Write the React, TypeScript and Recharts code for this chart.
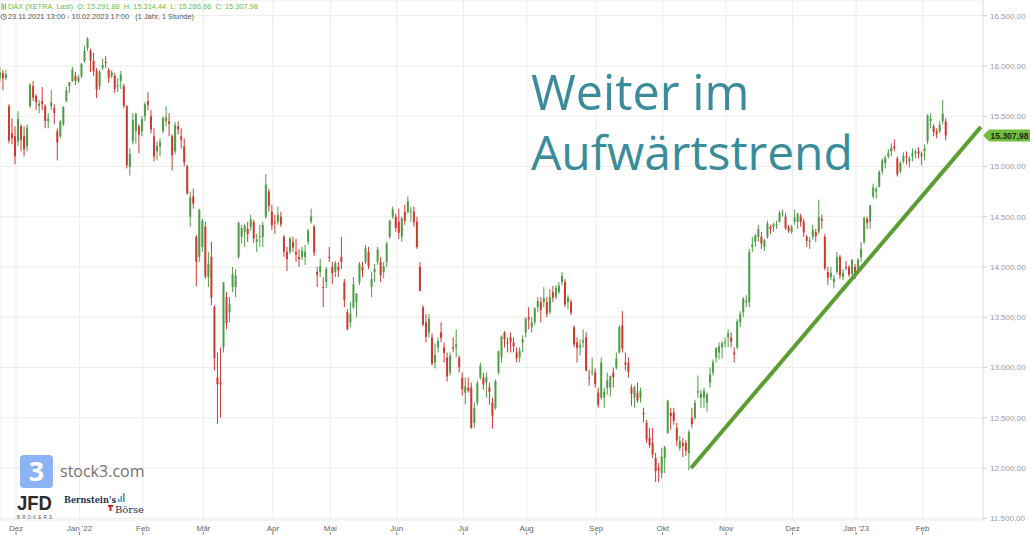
import React from 'react';
import { ComposedChart, Bar, XAxis, YAxis, CartesianGrid, ReferenceLine } from 'recharts';

type C = [number, number, number, number]; // open, high, low, close (one candle per trading day)

const nov21: C[] = [
  [15880, 15990, 15840, 15937], [15930, 15960, 15760, 15878], [15880, 15960, 15860, 15917],
  [15600, 15620, 15230, 15257], [15330, 15480, 15220, 15281], [15300, 15400, 15020, 15100],
];
const dec21: C[] = [
  [15250, 15550, 15200, 15473], [15400, 15420, 15150, 15263], [15300, 15400, 15100, 15170],
  [15200, 15420, 15150, 15387], [15600, 15830, 15580, 15814], [15800, 15850, 15650, 15687],
  [15700, 15720, 15560, 15639], [15600, 15660, 15530, 15623], [15650, 15790, 15560, 15622],
  [15600, 15620, 15380, 15453], [15450, 15530, 15380, 15476], [15600, 15760, 15560, 15636],
  [15580, 15620, 15420, 15532], [15350, 15380, 15060, 15239], [15300, 15460, 15280, 15447],
  [15420, 15600, 15400, 15593], [15650, 15790, 15640, 15756], [15800, 15840, 15730, 15837],
  [15850, 15990, 15840, 15964], [15900, 15940, 15810, 15853], [15850, 15910, 15830, 15885],
];
const jan22: C[] = [
  [15900, 16030, 15880, 16021], [16050, 16200, 16030, 16152], [16180, 16285, 16150, 16271],
  [16150, 16170, 15940, 16053], [16050, 16130, 15900, 15948], [15950, 15980, 15680, 15768],
  [15800, 15960, 15760, 15942], [15980, 16070, 15960, 16010], [16040, 16100, 15980, 16031],
  [15960, 15980, 15830, 15883], [15900, 15960, 15880, 15933], [15900, 15930, 15730, 15773],
  [15800, 15880, 15740, 15810], [15850, 15950, 15770, 15912], [15800, 15820, 15580, 15603],
  [15600, 15610, 14980, 15011], [15000, 15180, 14910, 15123], [15250, 15530, 15220, 15460],
  [15350, 15530, 15230, 15524], [15400, 15420, 15130, 15318], [15350, 15500, 15300, 15471],
];
const feb22: C[] = [
  [15500, 15640, 15450, 15619], [15650, 15740, 15560, 15613], [15500, 15560, 15330, 15368],
  [15300, 15380, 15050, 15100], [15150, 15250, 15060, 15206], [15200, 15280, 15100, 15242],
  [15350, 15500, 15330, 15482], [15450, 15600, 15400, 15490], [15450, 15530, 15300, 15425],
  [15300, 15320, 14960, 15113], [15150, 15440, 15120, 15412], [15400, 15450, 15320, 15370],
  [15300, 15380, 15180, 15267], [15200, 15280, 15000, 15042], [15000, 15020, 14720, 14731],
  [14500, 14750, 14400, 14693], [14700, 14780, 14580, 14631], [14300, 14320, 13810, 14052],
  [14100, 14580, 14050, 14567], [14200, 14480, 14150, 14461],
];
const mar22: C[] = [
  [14400, 14450, 13880, 13905], [13900, 14150, 13800, 14030], [14100, 14250, 13620, 13698],
  [13600, 13620, 12970, 13094], [12900, 13150, 12440, 12835], [12850, 13200, 12500, 12832],
  [13200, 13850, 13150, 13847], [13700, 13750, 13380, 13442], [13550, 13700, 13450, 13628],
  [13800, 14000, 13750, 13929], [13800, 13980, 13700, 13917], [14100, 14450, 14080, 14440],
  [14300, 14420, 14230, 14388], [14350, 14430, 14200, 14413], [14380, 14450, 14250, 14326],
  [14400, 14520, 14360, 14474], [14450, 14470, 14240, 14283], [14250, 14330, 14150, 14273],
  [14300, 14420, 14200, 14306], [14300, 14450, 14200, 14418], [14500, 14925, 14480, 14820],
  [14750, 14780, 14550, 14606], [14550, 14620, 14370, 14415],
];
const apr22: C[] = [
  [14450, 14520, 14330, 14446], [14450, 14600, 14420, 14519], [14500, 14550, 14400, 14424],
  [14300, 14320, 14100, 14153], [14150, 14200, 13960, 14078], [14150, 14300, 14130, 14284],
  [14250, 14300, 14150, 14193], [14150, 14280, 14050, 14125], [14100, 14180, 14000, 14077],
  [14100, 14200, 14070, 14164], [14100, 14220, 14020, 14153], [14250, 14380, 14220, 14362],
  [14450, 14580, 14430, 14502], [14400, 14420, 14110, 14142], [13950, 14000, 13800, 13924],
  [13950, 14080, 13900, 14009], [13800, 13900, 13600, 13795], [13850, 14000, 13790, 13979],
  [14100, 14200, 14050, 14098],
];
const may22: C[] = [
  [14000, 14050, 13830, 13939], [13950, 14060, 13900, 14039], [14000, 14050, 13900, 13970],
  [14100, 14300, 13980, 14051], [13850, 13880, 13600, 13674], [13550, 13580, 13370, 13380],
  [13450, 13650, 13400, 13534], [13600, 13900, 13580, 13828], [13650, 13700, 13500, 13739],
  [13850, 14050, 13820, 14027], [14000, 14050, 13900, 13964], [14050, 14220, 14030, 14185],
  [14150, 14200, 13980, 14007], [13800, 13950, 13700, 13882], [13950, 14030, 13850, 13982],
  [14050, 14200, 14020, 14175], [14050, 14100, 13850, 13919], [13950, 14050, 13890, 14008],
  [14050, 14250, 14000, 14231], [14300, 14470, 14280, 14462], [14500, 14600, 14480, 14575],
  [14500, 14530, 14350, 14388],
];
const jun22: C[] = [
  [14450, 14580, 14280, 14340], [14300, 14500, 14250, 14485], [14550, 14620, 14420, 14460],
  [14550, 14700, 14530, 14653], [14550, 14600, 14450, 14556], [14550, 14600, 14400, 14445],
  [14450, 14500, 14180, 14198], [14000, 14050, 13760, 13762], [13600, 13620, 13410, 13427],
  [13450, 13530, 13250, 13304], [13350, 13530, 13300, 13483], [13300, 13340, 13020, 13038],
  [13050, 13240, 12990, 13126], [13200, 13300, 13150, 13265], [13350, 13450, 13250, 13292],
  [13200, 13250, 13050, 13145], [13100, 13150, 12860, 12912], [12950, 13150, 12920, 13118],
  [13200, 13300, 13150, 13186], [13200, 13380, 13100, 13232], [13100, 13120, 12950, 13003],
  [12900, 12950, 12720, 12784],
];
const jul22: C[] = [
  [12750, 12900, 12630, 12813], [12800, 12900, 12750, 12773], [12800, 12850, 12390, 12401],
  [12450, 12650, 12400, 12595], [12650, 12870, 12620, 12843], [12900, 13050, 12880, 13015],
  [12900, 12950, 12780, 12832], [12850, 12950, 12700, 12905], [12800, 12850, 12630, 12757],
  [12650, 12700, 12390, 12519], [12600, 12880, 12580, 12865], [12950, 13170, 12930, 13160],
  [13100, 13320, 13050, 13308], [13350, 13360, 13200, 13282], [13250, 13300, 13150, 13247],
  [13300, 13350, 13150, 13254], [13250, 13300, 13150, 13210], [13150, 13200, 13050, 13097],
  [13100, 13200, 13050, 13166], [13250, 13320, 13150, 13282], [13350, 13500, 13300, 13484],
];
const aug22: C[] = [
  [13500, 13600, 13380, 13479], [13400, 13500, 13350, 13449], [13450, 13600, 13420, 13587],
  [13600, 13700, 13550, 13662], [13650, 13700, 13450, 13573], [13650, 13800, 13600, 13687],
  [13650, 13700, 13500, 13535], [13550, 13780, 13530, 13700], [13750, 13810, 13650, 13694],
  [13700, 13820, 13680, 13795], [13750, 13850, 13730, 13816], [13850, 13950, 13820, 13910],
  [13850, 13880, 13600, 13627], [13650, 13720, 13580, 13697], [13650, 13680, 13520, 13544],
  [13400, 13420, 13200, 13230], [13250, 13300, 13050, 13195], [13200, 13280, 13120, 13220],
  [13250, 13380, 13200, 13271], [13300, 13350, 12960, 12971], [12900, 12980, 12820, 12892],
  [12950, 13100, 12920, 12961], [12950, 12990, 12800, 12835],
];
const sep22: C[] = [
  [12750, 12800, 12600, 12630], [12700, 13100, 12680, 13050], [12700, 12800, 12600, 12761],
  [12800, 12950, 12730, 12871], [12800, 12920, 12710, 12916], [12950, 13000, 12800, 12904],
  [13000, 13150, 12980, 13088], [13150, 13420, 13140, 13402], [13420, 13560, 13150, 13189],
  [13050, 13150, 12970, 13028], [13050, 13100, 12900, 12956], [12800, 12830, 12620, 12741],
  [12700, 12820, 12600, 12803], [12750, 12850, 12650, 12671], [12700, 12800, 12650, 12767],
  [12550, 12600, 12450, 12532], [12450, 12480, 12250, 12284], [12300, 12400, 12200, 12227],
  [12250, 12400, 12100, 12140], [12100, 12150, 11860, 11970], [12000, 12050, 11860, 11976],
  [11950, 12200, 11900, 12114],
];
const oct22: C[] = [
  [12100, 12220, 11950, 12209], [12350, 12680, 12340, 12670], [12550, 12600, 12380, 12517],
  [12550, 12600, 12430, 12470], [12400, 12450, 12220, 12273], [12200, 12320, 12170, 12272],
  [12250, 12300, 12110, 12219], [12250, 12280, 12120, 12172], [12150, 12380, 11980, 12355],
  [12500, 12600, 12400, 12437], [12500, 12680, 12480, 12649], [12750, 12920, 12700, 12765],
  [12700, 12780, 12600, 12741], [12700, 12800, 12600, 12767], [12650, 12750, 12560, 12731],
  [12850, 13000, 12800, 12931], [12950, 13080, 12920, 13053], [13100, 13200, 13050, 13195],
  [13150, 13250, 13080, 13211], [13200, 13260, 13090, 13243], [13250, 13300, 13200, 13253],
];
const nov22: C[] = [
  [13300, 13380, 13200, 13339], [13300, 13350, 13200, 13257], [13150, 13200, 13050, 13130],
  [13200, 13480, 13180, 13460], [13450, 13560, 13400, 13533], [13550, 13700, 13500, 13688],
  [13650, 13720, 13600, 13666], [13650, 14180, 13600, 14146], [14200, 14300, 14150, 14224],
  [14250, 14330, 14200, 14313], [14300, 14420, 14250, 14378], [14300, 14350, 14180, 14234],
  [14200, 14280, 14160, 14267], [14300, 14460, 14280, 14431], [14400, 14420, 14330, 14380],
  [14400, 14440, 14350, 14423], [14420, 14460, 14380, 14428], [14450, 14560, 14440, 14539],
  [14540, 14570, 14500, 14541], [14500, 14540, 14370, 14383], [14400, 14420, 14340, 14355],
  [14350, 14420, 14330, 14397],
];
const dec22: C[] = [
  [14450, 14570, 14420, 14490], [14450, 14540, 14380, 14529], [14500, 14530, 14400, 14448],
  [14450, 14480, 14300, 14343], [14300, 14320, 14200, 14261], [14250, 14300, 14180, 14264],
  [14300, 14420, 14270, 14370], [14350, 14380, 14250, 14306], [14350, 14670, 14330, 14497],
  [14480, 14520, 14380, 14461], [14300, 14330, 13970, 13987], [13950, 14000, 13820, 13893],
  [13900, 14000, 13870, 13942], [13850, 13920, 13790, 13885], [13950, 14150, 13930, 14098],
  [14100, 14120, 13880, 13914], [13900, 13980, 13870, 13941], [14000, 14060, 13970, 13995],
  [14000, 14020, 13900, 13925], [13930, 14080, 13920, 14071], [14000, 14030, 13880, 13924],
];
const jan23: C[] = [
  [13950, 14090, 13940, 14069], [14100, 14250, 14050, 14181], [14250, 14500, 14230, 14490],
  [14480, 14500, 14380, 14436], [14450, 14620, 14380, 14610], [14700, 14830, 14680, 14792],
  [14750, 14800, 14680, 14775], [14800, 14960, 14790, 14948], [14950, 15080, 14920, 15058],
  [15030, 15110, 14980, 15087], [15100, 15170, 15080, 15134], [15150, 15230, 15100, 15187],
  [15200, 15270, 15150, 15181], [15080, 15100, 14900, 14920], [14950, 15050, 14930, 15033],
  [15050, 15140, 15030, 15103], [15100, 15150, 15020, 15093], [15050, 15100, 14990, 15082],
  [15100, 15180, 15050, 15132], [15130, 15170, 15080, 15150], [15150, 15190, 15080, 15126],
  [15100, 15150, 15010, 15128],
];
const feb23: C[] = [
  [15150, 15220, 15060, 15180], [15250, 15520, 15220, 15509], [15450, 15530, 15380, 15476],
  [15400, 15420, 15300, 15345], [15350, 15380, 15280, 15321], [15350, 15450, 15330, 15412],
  [15450, 15660, 15420, 15524], [15450, 15480, 15260, 15308],
];

const monthBlocks: { label: string; days: C[] }[] = [
  { label: 'Dez', days: dec21 }, { label: "Jan '22", days: jan22 }, { label: 'Feb', days: feb22 },
  { label: 'Mär', days: mar22 }, { label: 'Apr', days: apr22 }, { label: 'Mai', days: may22 },
  { label: 'Jun', days: jun22 }, { label: 'Jul', days: jul22 }, { label: 'Aug', days: aug22 },
  { label: 'Sep', days: sep22 }, { label: 'Okt', days: oct22 }, { label: 'Nov', days: nov22 },
  { label: 'Dez', days: dec22 }, { label: "Jan '23", days: jan23 }, { label: 'Feb', days: feb23 },
];

const yTicks = [11500, 12000, 12500, 13000, 13500, 14000, 14500, 15000, 15500, 16000, 16500];
const lastQuote = { o: 15291.88, h: 15314.44, l: 15286.66, c: 15307.98 };
const rangeText = '23.11.2021 13:00 - 10.02.2023 17:00';
const periodText = '(1 Jahr, 1 Stunde)';
const trendLine = [{ day: 228.9, price: 12000 }, { day: 324.8, price: 15394 }];
const titleLines = ['Weiter im', 'Aufwärtstrend'];

const candles: C[] = [nov21, ...monthBlocks.map((m) => m.days)].flat();
const data = candles.map(([o, h, l, c], i) => ({ i, o, h, l, c }));

const monthTicks: number[] = [];
{
  let acc = nov21.length;
  for (const m of monthBlocks) {
    monthTicks.push(acc - 0.5);
    acc += m.days.length;
  }
}

const GREEN = '#4e9d46';
const RED = '#cd3a2f';
const FONT = "'Liberation Sans', Arial, Helvetica, sans-serif";

const fmtDE = (v: number) => {
  const [intPart, dec] = v.toFixed(2).split('.');
  return intPart.replace(/\B(?=(\d{3})+(?!\d))/g, '.') + ',' + dec;
};

const Candle = (props: any) => {
  const { x, y, width, height, payload } = props;
  if (!payload || x == null || y == null) return null;
  const { o, h, l, c } = payload;
  const top = Math.min(y, y + height);
  const hh = Math.abs(height);
  const ratio = h - l > 0 ? hh / (h - l) : 0;
  const yO = top + (h - o) * ratio;
  const yC = top + (h - c) * ratio;
  const color = c >= o ? GREEN : RED;
  const cx = x + width / 2;
  return (
    <g>
      <line x1={cx} x2={cx} y1={top} y2={top + hh} stroke={color} strokeWidth={1} />
      <rect x={x} y={Math.min(yO, yC)} width={width} height={Math.max(1, Math.abs(yC - yO))} fill={color} />
    </g>
  );
};

const MonthTick = (props: any) => {
  const { x, y, payload } = props;
  const idx = monthTicks.indexOf(payload.value);
  const label = idx >= 0 ? monthBlocks[idx].label : '';
  return (
    <g>
      <text x={x} y={y + 11} textAnchor="middle" fontSize={8} fill="#666" fontFamily={FONT}>{label}</text>
      <line x1={x} x2={x} y1={y + 12} y2={y + 15} stroke="#888" strokeWidth={1} />
    </g>
  );
};

const PriceTag = (props: any) => {
  const vb = props.viewBox || {};
  const right = (vb.x || 0) + (vb.width || 0);
  const y = vb.y || 0;
  const h = 12;
  return (
    <g>
      <polygon
        points={`${right},${y} ${right + 6},${y - h / 2} ${right + 47},${y - h / 2} ${right + 47},${y + h / 2} ${right + 6},${y + h / 2}`}
        fill="#72bd40"
      />
      <text x={right + 26.5} y={y + 3} textAnchor="middle" fontSize={8.5} fontWeight={700} fill="#1b2b10" fontFamily={FONT}>
        {fmtDE(lastQuote.c)}
      </text>
    </g>
  );
};

export default function App() {
  return (
    <div style={{ position: 'relative', width: 1030, height: 535, background: '#fff', overflow: 'hidden' }}>
      <style>{`body{margin:0;background:#fff}`}</style>
      <ComposedChart width={1030} height={535} data={data} margin={{ top: 0, right: 0, bottom: 0, left: 0 }}>
        <CartesianGrid stroke="#ececec" strokeWidth={1} />
        <XAxis
          dataKey="i"
          type="number"
          domain={[0.2, 325.5]}
          allowDataOverflow
          ticks={monthTicks}
          interval={0}
          height={15}
          tickSize={0}
          tickMargin={0}
          axisLine={false}
          tickLine={false}
          tick={(p: any) => <MonthTick {...p} />}
        />
        <YAxis
          orientation="right"
          width={47}
          domain={[11483, 16656]}
          allowDataOverflow
          ticks={yTicks}
          interval={0}
          tickFormatter={fmtDE}
          tickSize={4}
          tickMargin={3}
          tick={{ fill: '#9b9b9b', fontSize: 8, fontFamily: FONT }}
          tickLine={{ stroke: '#cfcfcf' }}
          axisLine={{ stroke: '#e2e2e2' }}
        />
        <Bar dataKey={(d: any) => [d.l, d.h]} barSize={2} shape={<Candle />} isAnimationActive={false} />
        <ReferenceLine
          segment={[{ x: trendLine[0].day, y: trendLine[0].price }, { x: trendLine[1].day, y: trendLine[1].price }]}
          stroke="#5d9e32"
          strokeWidth={4}
          ifOverflow="visible"
        />
        <ReferenceLine y={lastQuote.c} stroke="none" ifOverflow="visible" label={<PriceTag />} />
      </ComposedChart>

      <svg width={1030} height={535} style={{ position: 'absolute', left: 0, top: 0, pointerEvents: 'none' }}>
        {/* header */}
        <rect x={1.5} y={3} width={1} height={7} fill="#6cbd3e" />
        <rect x={3.2} y={4.5} width={1} height={5} fill="#6cbd3e" />
        <rect x={4.9} y={3.5} width={1} height={6} fill="#6cbd3e" />
        <text x={8} y={9.3} fontSize={7.4} fill="#6cbd3e" fontFamily={FONT} xmlSpace="preserve">
          {`DAX (XETRA, Last)  O: ${fmtDE(lastQuote.o)}  H: ${fmtDE(lastQuote.h)}  L: ${fmtDE(lastQuote.l)}  C: ${fmtDE(lastQuote.c)}`}
        </text>
        <circle cx={3.6} cy={16.8} r={2.6} fill="none" stroke="#555" strokeWidth={0.8} />
        <path d="M3.6 15.3 V16.9 H4.8" fill="none" stroke="#555" strokeWidth={0.7} />
        <text x={8} y={19.4} fontSize={7.4} fill="#555" fontFamily={FONT} xmlSpace="preserve">
          {`${rangeText}   ${periodText}`}
        </text>

        {/* title */}
        <text x={531} y={110} fontSize={48.5} fill="#3a8c9a" fontFamily="'Open Sans', sans-serif">{titleLines[0]}</text>
        <text x={531} y={170} fontSize={48} fill="#3a8c9a" fontFamily="'Open Sans', sans-serif">{titleLines[1]}</text>

        {/* stock3 logo */}
        <rect x={20} y={455} width={33} height={33} rx={4} fill="#8ab4f4" />
        <text x={36.5} y={481} textAnchor="middle" fontSize={27} fontWeight={700} fill="#fff" fontFamily="'Open Sans', sans-serif">3</text>
        <text x={60} y={477} fontSize={16} fill="#727272" fontFamily="'Open Sans', sans-serif">stock3.com</text>

        {/* JFD logo */}
        <text x={17} y={510} fontSize={21} fontWeight={700} fill="#2a2a2a" fontFamily={FONT} textLength={35} lengthAdjust="spacingAndGlyphs">JFD</text>
        <text x={17} y={519} fontSize={4.6} fill="#555" fontFamily={FONT} textLength={35} lengthAdjust="spacing">BROKERS</text>

        {/* Bernstein's Börse logo */}
        <text x={64} y={503} fontSize={9.5} fontWeight={700} fill="#1e3557" fontFamily="'DejaVu Serif', serif" textLength={52} lengthAdjust="spacingAndGlyphs">Bernstein's</text>
        <rect x={118} y={499} width={1.6} height={3} fill="#3d9ad6" />
        <rect x={120.5} y={496} width={1.6} height={6} fill="#3d9ad6" />
        <rect x={123} y={493} width={1.6} height={9} fill="#3d9ad6" />
        <path d="M108 505 h5 v2 h-1.5 v4 h-2 v-4 h-1.5 z" fill="#d2232a" />
        <text x={115} y={513} fontSize={9.5} fill="#1e3557" fontFamily="'DejaVu Serif', serif" textLength={29} lengthAdjust="spacingAndGlyphs">Börse</text>
      </svg>
    </div>
  );
}
